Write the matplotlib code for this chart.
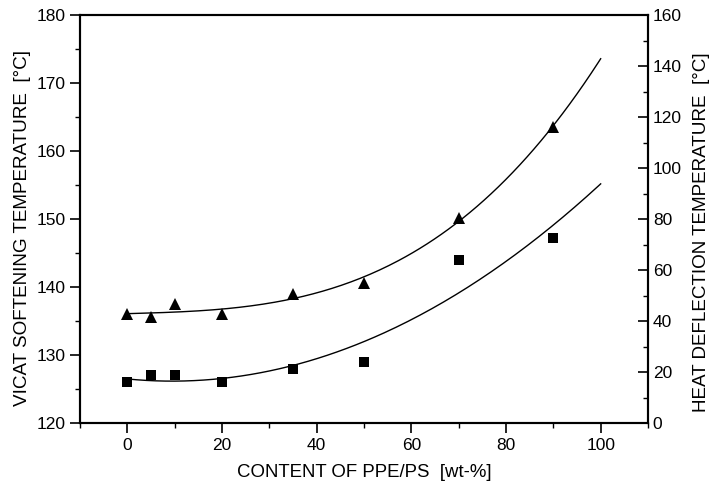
import matplotlib
matplotlib.use('Agg')

import numpy as np
import matplotlib.pyplot as plt
from matplotlib.ticker import MultipleLocator

plt.rcParams['font.family'] = ['Liberation Sans', 'DejaVu Sans']

# Dane
ppe_content   = [0, 5, 10, 20, 35, 50, 70, 90]
vicat_temp    = [136.0, 135.6, 137.5, 136.0, 139.0, 140.6, 150.2, 163.6]
hdt_temp_left = [126.0, 127.0, 127.0, 126.0, 128.0, 128.9, 144.0, 147.2]  # w skali lewej osi

fit_x = np.linspace(0, 100, 200)
fit_vicat = np.polyval(np.polyfit(ppe_content, vicat_temp, 3), fit_x)
fit_hdt   = np.polyval(np.polyfit(ppe_content, hdt_temp_left, 2), fit_x)

fig = plt.figure(figsize=(7.11, 4.87), dpi=100)
ax = fig.add_axes([0.1125, 0.1314, 0.7989, 0.8378])

ax.plot(fit_x, fit_vicat, color='black', lw=1.0)
ax.plot(fit_x, fit_hdt, color='black', lw=1.0)
ax.plot(ppe_content, vicat_temp, '^', color='black', ms=8.5, mew=0)
ax.plot(ppe_content, hdt_temp_left, 's', color='black', ms=7, mew=0)

ax.set_xlim(-10, 110)
ax.set_ylim(120, 180)
ax.xaxis.set_minor_locator(MultipleLocator(10))
ax.yaxis.set_major_locator(MultipleLocator(10))
ax.yaxis.set_minor_locator(MultipleLocator(5))
ax.set_xticks([0, 20, 40, 60, 80, 100])
ax.tick_params(which='major', direction='out', length=7, width=1.2, labelsize=12.5)
ax.tick_params(which='minor', direction='out', length=3.5, width=1.0)
ax.tick_params(top=False, right=False, which='both')

ax2 = ax.twinx()
ax2.set_ylim(0, 160)
ax2.yaxis.set_major_locator(MultipleLocator(20))
ax2.yaxis.set_minor_locator(MultipleLocator(10))
ax2.tick_params(which='major', direction='in', length=7, width=1.2, labelsize=12.5)
ax2.tick_params(which='minor', direction='in', length=3.5, width=1.0)

for a in (ax, ax2):
    for s in a.spines.values():
        s.set_linewidth(1.5)

ax.set_xlabel('CONTENT OF PPE/PS  [wt-%]', fontsize=13.4, labelpad=8)
ax.set_ylabel('VICAT SOFTENING TEMPERATURE  [°C]', fontsize=13.6)
ax2.set_ylabel('HEAT DEFLECTION TEMPERATURE  [°C]', fontsize=13.6)
ax.yaxis.set_label_coords(-0.086, 0.477)
ax2.yaxis.set_label_coords(1.08, 0.468)

plt.savefig('out.png', dpi=100)
plt.close()
